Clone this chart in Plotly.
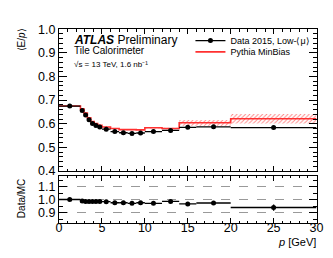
import plotly.graph_objects as go

W, H = 333, 258

# ---------------- data ----------------
bin_edges = [0, 2.5, 2.9, 3.3, 3.7, 4.1, 4.5, 5, 6, 7, 8, 9, 10, 12, 14, 16, 20, 30]
data_ep = [0.675, 0.656, 0.637, 0.617, 0.601, 0.593, 0.586, 0.577, 0.567, 0.562,
           0.559, 0.561, 0.567, 0.572, 0.585, 0.587, 0.584]
data_err = [0.002, 0.002, 0.002, 0.002, 0.002, 0.002, 0.002, 0.002, 0.002, 0.002,
            0.002, 0.002, 0.003, 0.003, 0.004, 0.004, 0.006]
mc_ep = [0.675, 0.663, 0.645, 0.625, 0.609, 0.601, 0.594, 0.586, 0.580, 0.575,
         0.575, 0.574, 0.583, 0.580, 0.604, 0.604, 0.621]
mc_err = [0.002, 0.002, 0.002, 0.002, 0.002, 0.002, 0.002, 0.002, 0.002, 0.002,
          0.002, 0.002, 0.003, 0.003, 0.012, 0.012, 0.020]
ratio = [1.002, 0.990, 0.987, 0.987, 0.987, 0.987, 0.987, 0.985, 0.977, 0.977,
         0.972, 0.977, 0.972, 0.987, 0.968, 0.975, 0.940]
ratio_err = [0.003, 0.003, 0.003, 0.003, 0.003, 0.003, 0.003, 0.003, 0.003, 0.003,
             0.004, 0.004, 0.005, 0.006, 0.007, 0.008, 0.024]

main_yticks = [0.4, 0.5, 0.6, 0.7, 0.8, 0.9, 1.0]
ratio_yticks = [0.9, 1.0, 1.1]
x_ticks = [0, 5, 10, 15, 20, 25, 30]

# ---------------- derived ----------------
centers = [(a + b) / 2 for a, b in zip(bin_edges[:-1], bin_edges[1:])]
halfw = [(b - a) / 2 for a, b in zip(bin_edges[:-1], bin_edges[1:])]
widths = [b - a for a, b in zip(bin_edges[:-1], bin_edges[1:])]
mc_step_y = mc_ep + [mc_ep[-1]]
band_base = [m - e for m, e in zip(mc_ep, mc_err)]
band_h = [2 * e for e in mc_err]


def px(x):
    return x / W


def py(y):
    return 1 - y / H


FONT = "Liberation Sans, Arial, Helvetica, sans-serif"
RED = "#ff3030"

fig = go.Figure()

# MC uncertainty band (hatched)
fig.add_trace(go.Bar(
    x=centers, y=band_h, base=band_base, width=widths,
    marker=dict(color="rgba(0,0,0,0)", line=dict(width=0),
                pattern=dict(shape="/", fgcolor="#ff8080", bgcolor="rgba(0,0,0,0)",
                             size=3, solidity=0.3, fillmode="replace")),
    showlegend=False, hoverinfo="skip", xaxis="x", yaxis="y"))

# MC step line
fig.add_trace(go.Scatter(
    x=bin_edges, y=mc_step_y, mode="lines", line=dict(color=RED, width=1.6, shape="hv"),
    name="Pythia MinBias", legend="legend2", xaxis="x", yaxis="y"))

# Data points
fig.add_trace(go.Scatter(
    x=centers, y=data_ep, mode="markers",
    marker=dict(color="black", size=5),
    error_x=dict(type="data", array=halfw, width=0, color="black", thickness=1.3),
    error_y=dict(type="data", array=data_err, width=0, color="black", thickness=1.3),
    showlegend=False, xaxis="x", yaxis="y"))

# legend-only entry for data
fig.add_trace(go.Scatter(
    x=[None], y=[None], mode="lines+markers",
    line=dict(color="black", width=1.3), marker=dict(color="black", size=5),
    name="Data 2015, Low-⟨μ⟩", legend="legend", xaxis="x", yaxis="y"))

# Ratio
fig.add_trace(go.Scatter(
    x=centers, y=ratio, mode="markers",
    marker=dict(color="black", size=5),
    error_x=dict(type="data", array=halfw, width=0, color="black", thickness=1.3),
    error_y=dict(type="data", array=ratio_err, width=0, color="black", thickness=1.3),
    showlegend=False, xaxis="x2", yaxis="y2"))

axis_common = dict(showline=True, linecolor="black", linewidth=1, mirror="ticks",
                   ticks="inside", tickcolor="black", tickwidth=1,
                   tickfont=dict(family=FONT, size=12.5, color="black"),
                   zeroline=False, showgrid=False, fixedrange=True)

xd = [px(49.5), px(315)]

fig.update_layout(
    width=W, height=H,
    margin=dict(l=0, r=0, t=0, b=0),
    paper_bgcolor="white", plot_bgcolor="white",
    barmode="overlay",
    font=dict(family=FONT, color="black"),
    xaxis=dict(axis_common, domain=xd, range=[0, 30], tickvals=x_ticks,
               showticklabels=False, ticklen=5,
               minor=dict(dtick=1, tick0=0, ticks="inside", ticklen=2.5, tickcolor="black"),
               anchor="y"),
    yaxis=dict(axis_common, domain=[py(165), py(15)], range=[0.4, 1.0],
               tickvals=main_yticks, ticktext=[f"{v:.1f}" for v in main_yticks],
               ticklen=8, ticklabelstandoff=0,
               minor=dict(dtick=0.02, tick0=0.4, ticks="inside", ticklen=4, tickcolor="black"),
               anchor="x"),
    xaxis2=dict(axis_common, domain=xd, range=[0, 30], tickvals=x_ticks,
                ticktext=[str(v) for v in x_ticks], ticklen=5, ticklabelstandoff=-7,
                minor=dict(dtick=1, tick0=0, ticks="inside", ticklen=2.5, tickcolor="black"),
                anchor="y2"),
    yaxis2=dict(axis_common, domain=[py(220), py(170)], range=[0.82, 1.185],
                tickvals=ratio_yticks, ticktext=[f"{v:.1f}" for v in ratio_yticks],
                ticklen=8, ticklabelstandoff=0,
                showgrid=True, gridcolor="#999999", griddash="dash", gridwidth=1,
                minor=dict(dtick=0.05, tick0=0.8, ticks="inside", ticklen=4, tickcolor="black"),
                anchor="x2"),
    legend=dict(x=px(185), y=py(27), xanchor="left", yanchor="middle",
                bgcolor="rgba(0,0,0,0)", borderwidth=0,
                font=dict(family=FONT, size=9, color="black")),
    legend2=dict(x=px(185), y=py(39), xanchor="left", yanchor="middle",
                 bgcolor="rgba(0,0,0,0)", borderwidth=0,
                 font=dict(family=FONT, size=9, color="black")),
    showlegend=True,
)

ann = [
    dict(text="<b><i>ATLAS</i></b> Preliminary", x=px(64), y=py(26.5),
         xanchor="left", yanchor="middle", font=dict(size=12)),
    dict(text="Tile Calorimeter", x=px(64), y=py(38),
         xanchor="left", yanchor="middle", font=dict(size=10)),
    dict(text="√s = 13 TeV, 1.6 nb⁻¹", x=px(64), y=py(52.5),
         xanchor="left", yanchor="middle", font=dict(size=8)),
    dict(text="⟨E/<i>p</i>⟩", x=px(11), y=py(13), textangle=-90,
         xanchor="center", yanchor="top", font=dict(size=10)),
    dict(text="Data/MC", x=px(11), y=py(194), textangle=-90,
         xanchor="center", yanchor="middle", font=dict(size=10)),
    dict(text="<i>p</i> [GeV]", x=px(315), y=py(240),
         xanchor="right", yanchor="middle", font=dict(size=11)),
]
for a in ann:
    a.update(xref="paper", yref="paper", showarrow=False, borderpad=0)
    a["font"] = dict(a["font"], family=FONT, color="black")
fig.update_layout(annotations=ann)

fig.write_html("out.html")
